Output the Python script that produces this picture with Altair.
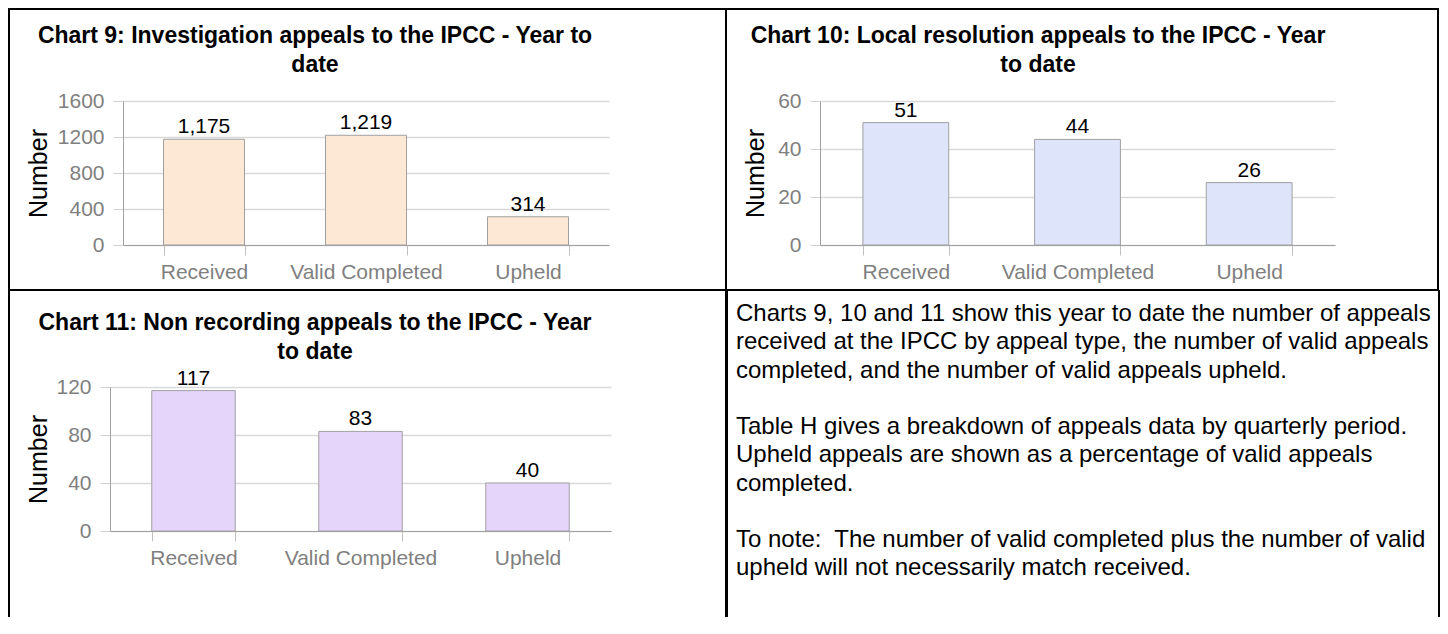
import altair as alt
import pandas as pd

FONT = "Liberation Sans"

# ---- data ----
categories = ["Received", "Valid Completed", "Upheld"]
investigation_values = [1175, 1219, 314]
local_resolution_values = [51, 44, 26]
non_recording_values = [117, 83, 40]

investigation_ticks = [0, 400, 800, 1200, 1600]
local_resolution_ticks = [0, 20, 40, 60]
non_recording_ticks = [0, 40, 80, 120]

title_9 = ["Chart 9: Investigation appeals to the IPCC - Year to", "date"]
title_10 = ["Chart 10: Local resolution appeals to the IPCC - Year", "to date"]
title_11 = ["Chart 11: Non recording appeals to the IPCC - Year", "to date"]

para_lines = [
    "Charts 9, 10 and 11 show this year to date the number of appeals",
    "received at the IPCC by appeal type, the number of valid appeals",
    "completed, and the number of valid appeals upheld.",
    "Table H gives a breakdown of appeals data by quarterly period.",
    "Upheld appeals are shown as a percentage of valid appeals",
    "completed.",
    "To note:\u00a0 The number of valid completed plus the number of valid",
    "upheld will not necessarily match received.",
]
para_rows = [0, 1, 2, 4, 5, 6, 8, 9]

one = pd.DataFrame({"k": [0]})


def bar_panel(values, ticks, fill, title_lines, w, h, title_cx, title_y0,
              ytitle_x, border, full_box, shift=0):
    df = pd.DataFrame({"category": categories, "value": values})
    if shift:
        xscale = alt.Scale(paddingInner=0.5, paddingOuter=0.25, range=[-shift, w])
        yaxis = alt.Axis(values=ticks, format="d", title="Number",
                         titleX=ytitle_x, titleY=h / 2, offset=shift)
    else:
        xscale = alt.Scale(paddingInner=0.5, paddingOuter=0.25)
        yaxis = alt.Axis(values=ticks, format="d", title="Number",
                         titleX=ytitle_x, titleY=h / 2)
    base = alt.Chart(df).encode(
        x=alt.X("category:N", sort=categories, scale=xscale, axis=alt.Axis(title=None)),
        y=alt.Y("value:Q",
                scale=alt.Scale(domain=[ticks[0], ticks[-1]], nice=False),
                axis=yaxis),
    )
    bars = base.mark_bar(fill=fill, stroke="#a0a0a0", strokeWidth=1)
    labels = base.mark_text(baseline="bottom", dy=-2, fontSize=21, font=FONT,
                            color="black").encode(text=alt.Text("value:Q", format=","))
    layers = [bars, labels]
    for i, line in enumerate(title_lines):
        layers.append(
            alt.Chart(one).mark_text(text=line, font=FONT, fontSize=23,
                                     fontWeight="bold", color="black",
                                     align="center", baseline="middle")
            .encode(x=alt.value(title_cx), y=alt.value(title_y0 + 29 * i))
        )
    x1, x2, y1, y2 = border
    if full_box:
        layers.append(
            alt.Chart(one).mark_rect(fillOpacity=0, stroke="black", strokeWidth=2)
            .encode(x=alt.value(x1), x2=alt.value(x2), y=alt.value(y1), y2=alt.value(y2))
        )
    else:
        rule = alt.Chart(one).mark_rule(color="black", strokeWidth=2)
        layers += [
            rule.encode(x=alt.value(x1), y=alt.value(y1), y2=alt.value(y2)),
            rule.encode(x=alt.value(x2), y=alt.value(y1), y2=alt.value(y2)),
            rule.encode(x=alt.value(x1), x2=alt.value(x2), y=alt.value(y1)),
        ]
    return alt.layer(*layers).properties(width=w, height=h)


c9 = bar_panel(investigation_values, investigation_ticks, "#FDE8D6", title_9,
               486, 144, 192, -65, -77, (-114, 603, -92, 189), True)
c10 = bar_panel(local_resolution_values, local_resolution_ticks, "#DEE5FA", title_10,
                515, 144, 218, -65, -57, (-94, 618, -92, 189), True)
c11 = bar_panel(non_recording_values, non_recording_ticks, "#E5D5FB", title_11,
                488, 144, 192, -64, -64, (-114, 603, -97, 230), False, shift=13)

# ---- text cell (view origin shares the top of chart 11's plot) ----
para_df = pd.DataFrame({"line": para_lines, "row": para_rows})
TW, TH = 712, 144
TOP = -97           # top border, relative to the view origin
step = 28.25
first = TOP + 24    # centre of the first line
d0 = -first / step
d1 = d0 + TH / step
text = alt.Chart(para_df).mark_text(align="left", baseline="middle", font=FONT,
                                    fontSize=24, color="black").encode(
    x=alt.value(9),
    y=alt.Y("row:Q", scale=alt.Scale(domain=[d0, d1], nice=False, zero=False, reverse=True),
            axis=None),
    text="line:N",
)
trule = alt.Chart(one).mark_rule(color="black", strokeWidth=2)
c12 = alt.layer(
    text,
    trule.encode(x=alt.value(0), y=alt.value(TOP), y2=alt.value(230)),
    trule.encode(x=alt.value(TW), y=alt.value(TOP), y2=alt.value(230)),
    trule.encode(x=alt.value(0), x2=alt.value(TW), y=alt.value(TOP)),
).properties(width=TW, height=TH)

row1 = alt.hconcat(c9, c10, spacing=-2, bounds="full")
row2 = alt.hconcat(c11, c12, spacing=-2, bounds="full")

chart = (
    alt.vconcat(row1, row2, spacing=-2, bounds="full")
    .properties(padding=0)
    .configure_view(stroke=None)
    .configure_axisY(domainColor="#a0a0a0", domainWidth=1, tickColor="#d0d0d0",
                     tickSize=10, gridColor="#d9d9d9", gridWidth=1.5,
                     labelColor="#7f7f7f", labelFont=FONT, labelFontSize=21,
                     labelPadding=9, titleFont=FONT, titleFontSize=25,
                     titleFontWeight="normal", titleColor="black",
                     titleBaseline="alphabetic")
    .configure_axisX(domainColor="#a0a0a0", domainWidth=1, tickColor="#c0c0c0",
                     tickSize=10, labelColor="#7f7f7f", labelFont=FONT,
                     labelFontSize=21, labelPadding=6, labelAngle=0, grid=False,
                     tickBand="extent")
)

chart.save("out.html", embed_options={"renderer": "svg", "actions": False})
